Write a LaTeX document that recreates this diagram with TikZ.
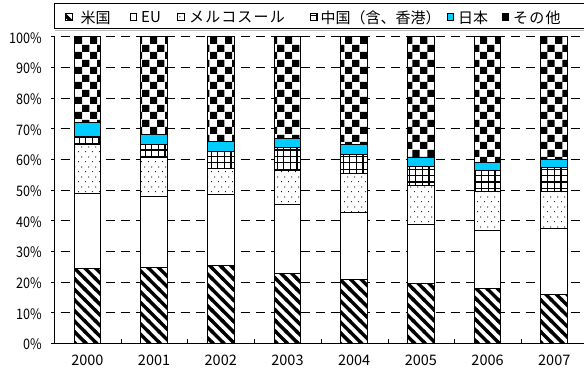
\documentclass[tikz,border=0pt]{standalone}
\usepackage{fontspec}
\setmainfont{Noto Sans CJK JP}
\usetikzlibrary{patterns}
\pgfdeclarepatternformonly{checker}{\pgfpointorigin}{\pgfpoint{15pt}{15pt}}{\pgfpoint{15pt}{15pt}}{%
  \pgfpathrectangle{\pgfpointorigin}{\pgfpoint{7.5pt}{7.5pt}}%
  \pgfpathrectangle{\pgfpoint{7.5pt}{7.5pt}}{\pgfpoint{7.5pt}{7.5pt}}%
  \pgfusepath{fill}}
\pgfdeclarepatternformonly{stripes}{\pgfpoint{-1pt}{-1pt}}{\pgfpoint{11.6pt}{11.6pt}}{\pgfpoint{10.6pt}{10.6pt}}{%
  \pgfsetlinewidth{3.4pt}%
  \pgfpathmoveto{\pgfpoint{-1pt}{1pt}}\pgfpathlineto{\pgfpoint{1pt}{-1pt}}%
  \pgfpathmoveto{\pgfpoint{-1pt}{11.6pt}}\pgfpathlineto{\pgfpoint{11.6pt}{-1pt}}%
  \pgfpathmoveto{\pgfpoint{9.6pt}{11.6pt}}\pgfpathlineto{\pgfpoint{11.6pt}{9.6pt}}%
  \pgfusepath{stroke}}
\pgfdeclarepatternformonly{sparsedots}{\pgfpointorigin}{\pgfpoint{7pt}{10pt}}{\pgfpoint{7pt}{10pt}}{%
  \pgfpathcircle{\pgfpoint{1.75pt}{2.5pt}}{0.65pt}%
  \pgfpathcircle{\pgfpoint{5.25pt}{7.5pt}}{0.65pt}%
  \pgfusepath{fill}}
\pgfdeclarepatternformonly{thickgrid}{\pgfpoint{-1pt}{-1pt}}{\pgfpoint{7.6pt}{7.4pt}}{\pgfpoint{6.6pt}{6.4pt}}{%
  \pgfsetlinewidth{1.2pt}%
  \pgfpathmoveto{\pgfpoint{0pt}{-1pt}}\pgfpathlineto{\pgfpoint{0pt}{7.4pt}}%
  \pgfpathmoveto{\pgfpoint{-1pt}{0pt}}\pgfpathlineto{\pgfpoint{7.6pt}{0pt}}%
  \pgfusepath{stroke}}
\definecolor{jpcyan}{RGB}{0,204,255}
\begin{document}
\begin{tikzpicture}[x=1pt,y=1pt,
  seg/.style={draw=black,line width=0.9pt},
  usfill/.style={seg,preaction={fill=white},pattern=stripes},
  eufill/.style={seg,fill=white},
  mefill/.style={seg,preaction={fill=white},pattern=sparsedots},
  cnfill/.style={seg,preaction={fill=white},pattern=thickgrid},
  jpfill/.style={seg,fill=jpcyan},
  otfill/.style={seg,preaction={fill=white},pattern=checker},
  gridline/.style={draw=black,line width=0.7pt,dash pattern=on 9pt off 6pt,dash phase=9pt},
  axisline/.style={draw=black,line width=0.9pt},
  lab/.style={font=\fontsize{14.5}{16}\selectfont,inner sep=0pt},
  legtext/.style={font=\fontsize{15}{17}\selectfont,inner sep=0pt,anchor=west},
  legicon/.style={line width=0.8pt}]
\useasboundingbox (0,0) rectangle (584,374);
\fill[white] (0,0) rectangle (584,374);
% legend box
\draw[line width=0.8pt] (54,370.5) rectangle (592,345.5);
\draw[gray!55,line width=1.2pt] (55,343.5) -- (584,343.5);
% legend entries
\draw[legicon,usfill] (65.7,354) rectangle (72.3,360.6);
\node[legtext] (lus) at (80.5,356.5) {米国};
\draw[legicon,eufill] (130,354) rectangle (136.6,360.6);
\node[legtext] (leu) at (141,356.5) {EU};
\draw[legicon,mefill] (177.5,354) rectangle (184.1,360.6);
\node[legtext] (lme) at (189,356.5) {\addfontfeature{LetterSpace=8}メルコスール};
\draw[legicon,cnfill] (310.5,354) rectangle (317.1,360.6);
\node[legtext] (lcn) at (320.5,356.5) {中国（含、香港）};
\draw[legicon,jpfill] (447,354) rectangle (453.6,360.6);
\node[legtext] (ljp) at (458,356.5) {日本};
\draw[legicon,otfill] (502,354) rectangle (508.6,360.6);
\node[legtext] (lot) at (513,356.5) {\addfontfeature{LetterSpace=8}その他};
% grid lines and y labels
\foreach \v in {10,20,...,100} {
  \draw[gridline] (54.5,{30.7+3.066*\v}) -- (584,{30.7+3.066*\v});
}
\foreach \v in {0,10,...,100} {
  \draw[axisline] (51,{30.7+3.066*\v}) -- (54.5,{30.7+3.066*\v});
  \node[lab,anchor=east] (y\v) at (42,{29.5+3.066*\v}) {\scalebox{0.87}[1]{\v\%}};
}
% bars
\foreach \i/\yr/\a/\b/\c/\d/\e in {0/2000/24.5/48.9/64.8/67.5/72.0,
  1/2001/24.9/47.8/60.7/65.0/68.0,
  2/2002/25.5/48.6/57.1/62.5/65.8,
  3/2003/22.8/45.4/56.5/63.8/66.9,
  4/2004/20.9/42.7/55.4/61.7/64.7,
  5/2005/19.4/38.8/51.5/57.8/60.7,
  6/2006/17.9/36.8/49.4/56.4/59.0,
  7/2007/16.0/37.4/49.4/57.2/59.9} {
  \pgfmathsetmacro\xl{74+66.7*\i}
  \pgfmathsetmacro\xr{\xl+26.7}
  \pgfmathsetmacro\ya{30.7+3.066*\a}
  \pgfmathsetmacro\yb{30.7+3.066*\b}
  \pgfmathsetmacro\yc{30.7+3.066*\c}
  \pgfmathsetmacro\yd{30.7+3.066*\d}
  \pgfmathsetmacro\ye{30.7+3.066*\e}
  \draw[usfill] (\xl,30.7) rectangle (\xr,\ya);
  \draw[eufill] (\xl,\ya) rectangle (\xr,\yb);
  \draw[mefill] (\xl,\yb) rectangle (\xr,\yc);
  \draw[cnfill] (\xl,\yc) rectangle (\xr,\yd);
  \draw[jpfill] (\xl,\yd) rectangle (\xr,\ye);
  \draw[otfill] (\xl,\ye) rectangle (\xr,337.3);
  \node[lab] (x\yr) at ({\xl+13.35},14) {\yr};
}
% axes
\draw[axisline] (54.5,337.3) -- (54.5,30.7) -- (584,30.7);
\foreach \k in {1,...,7} {
  \draw[axisline] ({54.5+66.7*\k},30.7) -- ({54.5+66.7*\k},34.7);
}
\end{tikzpicture}
\end{document}
